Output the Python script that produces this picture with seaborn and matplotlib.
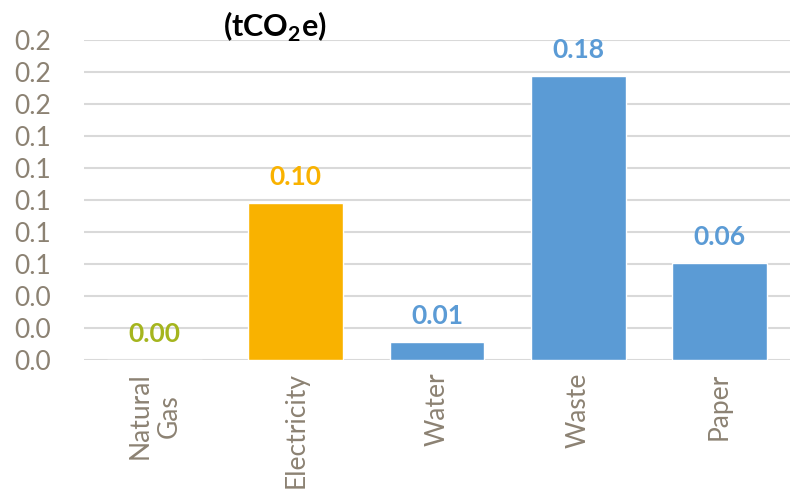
import matplotlib
matplotlib.use("Agg")
import matplotlib.pyplot as plt
import seaborn as sns
import numpy as np

categories = ["Natural\nGas", "Electricity", "Water", "Waste", "Paper"]
values = [0.0, 0.098, 0.0113, 0.1775, 0.0608]
labels = ["0.00", "0.10", "0.01", "0.18", "0.06"]
bar_colors = ["#A5B51E", "#F9B200", "#5B9BD5", "#5B9BD5", "#5B9BD5"]
label_colors = ["#A5B51E", "#F9B200", "#5B9BD5", "#5B9BD5", "#5B9BD5"]
yticks = [0.0, 0.02, 0.04, 0.06, 0.08, 0.10, 0.12, 0.14, 0.16, 0.18, 0.20]

sns.set_style("white")
plt.rcParams['font.family'] = ['Lato', 'DejaVu Sans']
plt.rcParams['mathtext.fontset'] = 'custom'
plt.rcParams['mathtext.bf'] = 'Lato:bold'
plt.rcParams['mathtext.rm'] = 'Lato'

fig = plt.figure(figsize=(7.95, 4.99), dpi=100)
ax = fig.add_axes([84/795, 1-360/499, (790-84)/795, (360-40)/499])

sns.barplot(x=categories, y=values, hue=categories, palette=bar_colors,
            width=0.67, legend=False, ax=ax, saturation=1)

ax.set_ylim(0, 0.20)
ax.set_yticks(yticks)
ax.set_yticklabels([f"{t:.1f}" for t in yticks])
ax.grid(axis="y", color="#D9D9D9", linewidth=1.5)
ax.set_axisbelow(True)
for s in ax.spines.values():
    s.set_visible(False)
ax.tick_params(axis="both", length=0, colors="#8C8273", labelsize=19)
ax.tick_params(axis="y", pad=50)
ax.tick_params(axis="x", pad=9)
for lab in ax.get_xticklabels():
    lab.set_rotation(90)
    lab.set_va("top")
    lab.set_ha("center")
    lab.set_multialignment("center")
for lab in ax.get_yticklabels():
    lab.set_ha("left")
ax.set_xlabel("")
ax.set_ylabel("")

for i, (v, t, c) in enumerate(zip(values, labels, label_colors)):
    ax.annotate(t, (i, v), xytext=(0, 10), textcoords="offset points",
                ha="center", va="bottom", fontsize=19, fontweight="bold",
                color=c, annotation_clip=False)

fig.text(275/795, 1-27/499, "(tCO$_{\\mathbf{2}}$e)", ha="center", va="center",
         fontsize=22, fontweight="bold", color="#000000")

fig.savefig("out.png", dpi=100)
